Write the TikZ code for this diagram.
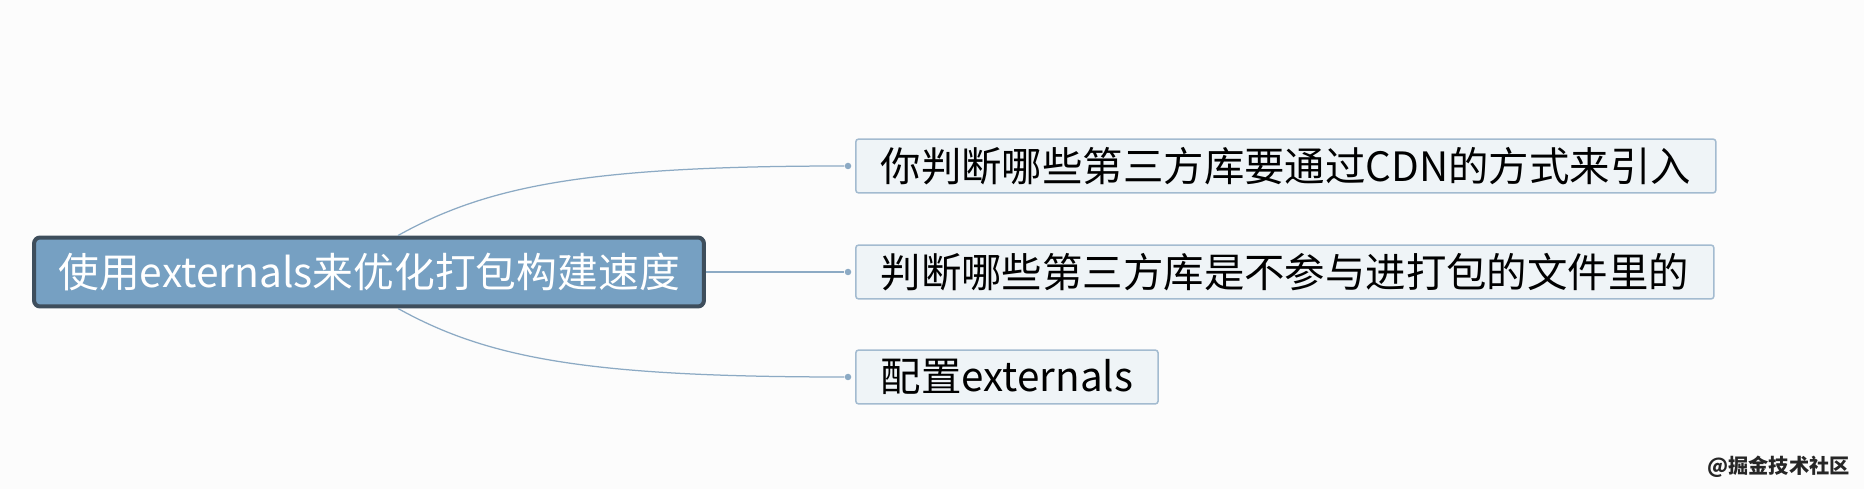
\documentclass[tikz,border=0pt]{standalone}
\usepackage{fontspec}
\setmainfont{Noto Sans CJK SC}
\definecolor{bgcol}{HTML}{FCFCFC}
\definecolor{rootfill}{HTML}{76A0C2}
\definecolor{rootdraw}{HTML}{3E4E5C}
\definecolor{leaffill}{HTML}{EFF4F7}
\definecolor{leafdraw}{HTML}{A3BBD0}
\definecolor{linkcol}{HTML}{8CAAC4}
\begin{document}
\begin{tikzpicture}[x=0.02cm,y=-0.02cm]
			\tikzset{goc/.style={draw=rootdraw,line width=0.8mm,fill=rootfill,rounded corners=1.2mm,minimum width=13.4cm,minimum height=1.38cm,text=white,font=\fontsize{23.2}{27}\selectfont},
				la/.style={anchor=west,draw=leafdraw,line width=0.3mm,fill=leaffill,rounded corners=0.6mm,minimum height=1.08cm,inner xsep=0.5cm,font=\fontsize{23}{27}\selectfont},
				cham/.style={circle,fill=linkcol,inner sep=0pt,minimum size=0.13cm}}
			\fill[bgcol](0,0)rectangle(1864,489);
			\useasboundingbox(0,0)rectangle(1864,489);
			\path(369,272)node[goc](C){使用externals来优化打包构建速度};
			\path(855,166)node[la](A1){你判断哪些第三方库要通过CDN的方式来引入}
			(855,272)node[la](A2){判断哪些第三方库是不参与进打包的文件里的}
			(855,377)node[la](A3){配置externals};
			\path(A1.west)++(-7,0)node[cham](d1){}(A2.west)++(-7,0)node[cham](d2){}(A3.west)++(-7,0)node[cham](d3){};
			\coordinate(ct)at([xshift=0.58cm]C.north);
			\coordinate(cb)at([xshift=0.58cm]C.south);
			\draw[linkcol,line width=0.25mm](ct)..controls+(90,-50)and+(-260,0)..(d1);
			\draw[linkcol,line width=0.25mm](C.east)--(d2);
			\draw[linkcol,line width=0.25mm](cb)..controls+(90,50)and+(-260,0)..(d3);
			%%watermark
			\path(1856,467)node[anchor=east,text=black!85,font=\fontsize{11.5}{13}\selectfont\bfseries]{@掘金技术社区};
		\end{tikzpicture}
\end{document}
